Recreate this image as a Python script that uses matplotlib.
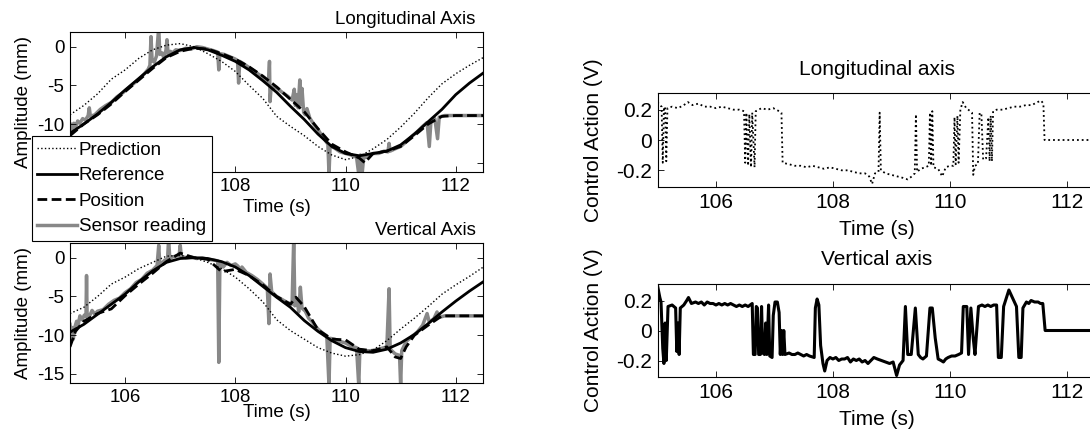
import matplotlib
matplotlib.use('Agg')
import matplotlib.pyplot as plt

plt.rcParams['font.family'] = ['Liberation Sans', 'DejaVu Sans']
plt.rcParams['axes.unicode_minus'] = False

# ---------------- data: longitudinal axis (mm) ----------------
t_grid = [105.0, 105.25, 105.5, 105.75, 106.0, 106.25, 106.5, 106.75, 107.0, 107.25,
          107.5, 107.75, 108.0, 108.25, 108.5, 108.75, 109.0, 109.25, 109.5, 109.75,
          110.0, 110.25, 110.5, 110.75, 111.0, 111.25, 111.5, 111.75, 112.0, 112.25, 112.5]

lon_reference = [-11.2, -10.0, -8.7, -7.2, -5.6, -4.1, -2.6, -1.3, -0.4, -0.1,
                 -0.4, -1.1, -1.9, -3.0, -4.4, -5.9, -7.7, -9.4, -11.3, -12.9,
                 -13.8, -14.1, -13.8, -13.5, -12.7, -11.3, -9.7, -8.1, -6.2, -4.7, -3.4]
lon_prediction = [-8.8, -7.6, -6.1, -4.2, -3.0, -1.5, -0.4, 0.2, 0.4, 0.0,
                  -0.9, -1.9, -3.2, -5.0, -6.7, -9.0, -10.3, -11.5, -12.9, -14.0,
                  -14.6, -14.2, -13.2, -12.0, -10.4, -8.6, -6.6, -4.8, -3.5, -2.4, -1.4]
lon_pos_t = [105.0, 105.25, 105.5, 105.75, 106.0, 106.25, 106.5, 106.75, 107.0, 107.25,
             107.5, 107.75, 108.0, 108.25, 108.5, 108.75, 109.0, 109.25, 109.5, 109.75,
             110.0, 110.25, 110.35, 110.5, 110.75, 111.0, 111.25, 111.5, 111.75, 112.0,
             112.25, 112.5]
lon_position = [-11.5, -10.0, -8.8, -7.4, -5.8, -4.3, -2.8, -1.4, -0.6, -0.2,
                -0.3, -0.9, -1.6, -2.6, -3.8, -5.2, -6.8, -8.4, -10.6, -12.6,
                -13.6, -14.4, -15.0, -13.8, -13.5, -12.9, -11.5, -10.0, -9.0, -8.9,
                -8.9, -8.9]
lon_sensor_t = [105.00, 105.02, 105.04, 105.07, 105.10, 105.14, 105.18, 105.23, 105.28, 105.33,
                105.35, 105.37, 105.45, 105.55, 105.65, 105.75, 105.85, 105.95, 106.05, 106.15,
                106.25, 106.35, 106.42, 106.45, 106.47, 106.49, 106.53, 106.57, 106.61, 106.63,
                106.67, 106.70, 106.74, 106.76, 106.78, 106.82, 106.86, 106.92, 107.0, 107.1,
                107.2, 107.3, 107.4, 107.5, 107.6, 107.68, 107.70, 107.72, 107.8, 107.9,
                108.0, 108.04, 108.06, 108.08, 108.15, 108.25, 108.35, 108.45, 108.55, 108.60,
                108.62, 108.63, 108.65, 108.75, 108.85, 108.95, 109.03, 109.07, 109.09, 109.11,
                109.14, 109.17, 109.19, 109.21, 109.24, 109.27, 109.30, 109.35, 109.42, 109.5,
                109.58, 109.65, 109.68, 109.70, 109.72, 109.8, 109.9, 110.0, 110.1, 110.2,
                110.24, 110.27, 110.30, 110.33, 110.4, 110.5, 110.6, 110.7, 110.77, 110.79,
                110.81, 110.9, 111.0, 111.1, 111.2, 111.3, 111.4, 111.48, 111.52, 111.55,
                111.62, 111.67, 111.70, 111.8, 112.0, 112.5]
lon_sensor = [-11.3, -10.0, -10.8, -9.9, -10.4, -9.6, -9.9, -9.3, -9.5, -8.9,
              -7.9, -9.0, -8.8, -8.1, -7.6, -7.2, -6.5, -6.0, -5.4, -4.8,
              -4.2, -3.5, -2.9, -2.4, 1.3, -1.8, -2.0, -1.2, 2.5, -1.0,
              -0.8, -1.4, -0.5, 0.9, -0.9, -0.6, -0.8, -0.4, -0.5, -0.2,
              -0.3, 0.0, -0.1, -0.3, -0.5, -0.7, -3.0, -0.9, -1.0, -1.3,
              -1.6, -1.8, -4.7, -1.9, -2.2, -2.7, -3.2, -3.7, -4.3, -4.8,
              -1.9, -7.1, -5.2, -5.3, -5.9, -6.4, -6.9, -5.5, -7.6, -6.2,
              -7.9, -4.3, -7.5, -5.4, -8.5, -8.8, -8.0, -9.2, -10.0, -10.7,
              -11.6, -12.3, -12.6, -16.5, -12.8, -13.1, -13.6, -13.8, -14.0, -14.3,
              -16.5, -14.0, -16.5, -14.3, -14.3, -13.8, -13.8, -13.5, -13.6, -12.5,
              -13.5, -13.2, -12.9, -12.3, -11.6, -11.0, -10.3, -9.8, -12.9, -9.6,
              -9.3, -11.9, -9.1, -8.9, -8.9, -8.9]

# ---------------- data: vertical axis (mm) ----------------
ver_reference = [-9.6, -8.6, -7.3, -6.0, -4.7, -3.1, -1.7, -0.6, -0.1, 0.0,
                 -0.1, -0.5, -1.2, -2.3, -3.7, -5.1, -6.4, -8.1, -9.5, -10.7,
                 -11.6, -12.1, -12.2, -11.8, -11.0, -9.9, -8.5, -7.0, -5.6, -4.3, -3.1]
ver_prediction = [-7.2, -6.4, -5.0, -3.4, -2.5, -1.4, -0.6, 0.2, 0.3, 0.0,
                  -0.6, -1.4, -2.5, -4.0, -5.7, -8.0, -9.4, -10.5, -11.6, -12.3,
                  -12.7, -12.5, -11.9, -10.7, -9.2, -7.8, -6.3, -4.7, -3.5, -2.4, -1.2]
ver_pos_t = [105.0, 105.1, 105.25, 105.5, 105.75, 106.0, 106.25, 106.5, 106.75, 107.0,
             107.25, 107.5, 107.75, 108.0, 108.25, 108.5, 108.75, 109.0, 109.1, 109.25,
             109.5, 109.75, 110.0, 110.25, 110.5, 110.75, 110.9, 111.0, 111.1, 111.25,
             111.5, 111.75, 112.0, 112.25, 112.5]
ver_position = [-11.5, -9.5, -8.2, -7.2, -6.6, -4.9, -3.4, -2.0, -0.5, 0.6,
                0.0, -0.2, -1.8, -1.5, -2.3, -3.5, -5.0, -6.0, -5.1, -6.3,
                -9.3, -10.5, -10.6, -11.8, -12.0, -11.5, -12.8, -13.0, -11.5, -10.0,
                -8.7, -7.5, -7.5, -7.5, -7.5]
ver_sensor_t = [105.00, 105.02, 105.04, 105.06, 105.09, 105.12, 105.15, 105.18, 105.22, 105.26,
                105.29, 105.30, 105.31, 105.35, 105.40, 105.45, 105.5, 105.6, 105.7, 105.8,
                105.9, 106.0, 106.1, 106.2, 106.3, 106.4, 106.5, 106.58, 106.61, 106.63,
                106.68, 106.72, 106.77, 106.79, 106.81, 106.86, 106.92, 106.98, 107.00, 107.02,
                107.1, 107.2, 107.3, 107.4, 107.5, 107.6, 107.68, 107.70, 107.72, 107.78,
                107.85, 107.92, 108.0, 108.05, 108.08, 108.12, 108.2, 108.3, 108.4, 108.5,
                108.58, 108.61, 108.63, 108.66, 108.75, 108.85, 108.95, 109.03, 109.06, 109.08,
                109.12, 109.15, 109.18, 109.21, 109.27, 109.33, 109.40, 109.45, 109.5, 109.58,
                109.66, 109.70, 109.72, 109.8, 109.9, 110.0, 110.1, 110.2, 110.24, 110.26,
                110.35, 110.45, 110.55, 110.65, 110.75, 110.79, 110.81, 110.9, 110.98, 111.00,
                111.02, 111.1, 111.2, 111.3, 111.4, 111.48, 111.52, 111.6, 111.66, 111.7,
                111.8, 112.0, 112.5]
ver_sensor = [-8.6, -10.8, -9.0, -10.5, -8.9, -8.2, -8.6, -7.5, -8.0, -7.4,
              -7.6, -2.3, -7.2, -7.6, -6.8, -7.3, -6.9, -6.7, -6.0, -5.5,
              -5.2, -4.5, -4.0, -3.2, -2.8, -2.0, -1.6, -1.0, 1.6, -0.9,
              -0.6, -0.3, -0.2, 2.5, -0.1, 0.1, 0.2, 0.3, 1.6, 0.2,
              0.0, 0.1, -0.1, 0.0, -0.2, -0.3, -0.4, -13.5, -0.6, -1.2,
              -0.6, -1.0, -0.8, -1.1, -1.7, -1.2, -1.9, -2.3, -2.8, -3.4,
              -3.9, -8.5, -2.1, -4.4, -5.0, -5.4, -5.8, -6.0, 2.5, -6.2,
              -5.3, -7.0, -3.8, -6.5, -6.9, -7.8, -8.3, -8.8, -9.2, -9.7,
              -10.1, -16.5, -10.4, -10.5, -10.8, -11.0, -11.4, -11.6, -16.5, -11.9,
              -12.0, -12.0, -11.9, -11.7, -11.5, -4.0, -11.8, -12.4, -12.6, -16.5,
              -12.0, -10.8, -10.2, -9.6, -8.7, -7.2, -8.3, -7.9, -7.0, -7.7,
              -7.5, -7.5, -7.5]

# ---------------- data: control actions (V) ----------------
lon_ctrl_t = [105.00, 105.04, 105.07, 105.09, 105.11, 105.13, 105.15, 105.17, 105.25, 105.35,
              105.45, 105.52, 105.6, 105.7, 105.8, 105.9, 106.0, 106.1, 106.2, 106.3,
              106.4, 106.48, 106.50, 106.52, 106.55, 106.57, 106.60, 106.62, 106.66, 106.68,
              106.78, 106.88, 106.98, 107.08, 107.12, 107.14, 107.25, 107.35, 107.45, 107.55,
              107.65, 107.75, 107.85, 107.95, 108.05, 108.15, 108.25, 108.35, 108.45, 108.55,
              108.62, 108.67, 108.72, 108.78, 108.80, 108.82, 108.9, 109.0, 109.1, 109.2,
              109.28, 109.35, 109.40, 109.42, 109.44, 109.5, 109.58, 109.64, 109.66, 109.68,
              109.70, 109.72, 109.8, 109.87, 109.93, 110.0, 110.06, 110.08, 110.10, 110.13,
              110.15, 110.18, 110.22, 110.28, 110.35, 110.38, 110.40, 110.43, 110.48, 110.51,
              110.54, 110.57, 110.62, 110.66, 110.68, 110.70, 110.72, 110.74, 110.8, 110.9,
              111.0, 111.1, 111.2, 111.3, 111.4, 111.5, 111.56, 111.60, 111.62, 112.5]
lon_ctrl = [0.25, 0.23, 0.22, -0.15, 0.21, 0.22, -0.14, 0.21, 0.22, 0.21,
            0.23, 0.25, 0.23, 0.24, 0.22, 0.22, 0.21, 0.22, 0.21, 0.20,
            0.20, 0.19, -0.15, 0.18, -0.17, 0.17, -0.18, 0.18, -0.18, 0.19,
            0.21, 0.20, 0.21, 0.19, 0.18, -0.15, -0.16, -0.17, -0.17, -0.18,
            -0.17, -0.18, -0.19, -0.18, -0.19, -0.20, -0.20, -0.21, -0.22, -0.22,
            -0.24, -0.29, -0.22, -0.21, 0.18, -0.20, -0.22, -0.23, -0.24, -0.25,
            -0.26, -0.24, -0.22, 0.17, -0.21, -0.19, -0.18, -0.17, 0.18, -0.17,
            0.19, -0.18, -0.19, -0.24, -0.18, -0.17, -0.17, 0.15, -0.16, 0.16,
            -0.15, 0.20, 0.25, 0.21, 0.19, 0.18, -0.23, -0.17, -0.16, 0.18,
            0.17, -0.13, -0.12, 0.15, -0.14, 0.16, -0.14, 0.19, 0.20, 0.20,
            0.21, 0.22, 0.22, 0.23, 0.23, 0.25, 0.26, 0.24, 0.0, 0.0]

ver_ctrl_t = [105.00, 105.04, 105.06, 105.09, 105.11, 105.13, 105.15, 105.18, 105.25, 105.31,
              105.33, 105.35, 105.37, 105.39, 105.45, 105.50, 105.53, 105.58, 105.65, 105.7,
              105.75, 105.8, 105.85, 105.9, 105.95, 106.0, 106.05, 106.1, 106.15, 106.2,
              106.25, 106.3, 106.35, 106.4, 106.45, 106.5, 106.55, 106.62, 106.64, 106.67,
              106.69, 106.71, 106.73, 106.76, 106.78, 106.80, 106.83, 106.85, 106.87, 106.90,
              106.92, 106.96, 106.98, 107.01, 107.05, 107.08, 107.10, 107.12, 107.14, 107.16,
              107.18, 107.25, 107.3, 107.35, 107.4, 107.45, 107.5, 107.55, 107.6, 107.68,
              107.70, 107.73, 107.76, 107.79, 107.83, 107.86, 107.90, 107.95, 108.0, 108.05,
              108.1, 108.15, 108.2, 108.25, 108.3, 108.35, 108.4, 108.45, 108.5, 108.55,
              108.6, 108.65, 108.7, 108.76, 108.83, 108.9, 108.97, 109.03, 109.09, 109.14,
              109.20, 109.24, 109.28, 109.34, 109.41, 109.46, 109.50, 109.54, 109.60, 109.66,
              109.70, 109.75, 109.80, 109.85, 109.89, 109.93, 109.97, 110.03, 110.09, 110.15,
              110.20, 110.23, 110.29, 110.32, 110.36, 110.40, 110.43, 110.46, 110.49, 110.55,
              110.6, 110.65, 110.7, 110.75, 110.80, 110.83, 110.88, 110.92, 111.01, 111.08,
              111.14, 111.18, 111.22, 111.25, 111.31, 111.35, 111.39, 111.45, 111.51, 111.55,
              111.59, 111.63, 112.5]
ver_ctrl = [0.30, 0.22, 0.19, -0.12, -0.22, 0.05, -0.20, 0.16, 0.17, 0.15,
            -0.14, 0.05, -0.16, 0.15, 0.17, 0.20, 0.22, 0.18, 0.19, 0.18,
            0.19, 0.17, 0.19, 0.18, 0.18, 0.17, 0.18, 0.17, 0.18, 0.17,
            0.18, 0.17, 0.16, 0.17, 0.16, 0.17, 0.16, 0.18, -0.16, -0.16,
            0.16, 0.15, -0.16, -0.16, 0.16, -0.15, -0.16, 0.05, -0.16, 0.17,
            -0.17, -0.18, 0.10, 0.19, 0.19, 0.12, -0.16, 0.0, -0.16, 0.0,
            -0.16, -0.15, -0.16, -0.16, -0.15, -0.16, -0.17, -0.16, -0.17, -0.18,
            0.15, 0.21, 0.17, -0.10, -0.22, -0.27, -0.20, -0.18, -0.19, -0.18,
            -0.20, -0.19, -0.19, -0.18, -0.21, -0.19, -0.20, -0.19, -0.21, -0.20,
            -0.22, -0.20, -0.18, -0.19, -0.20, -0.21, -0.22, -0.21, -0.30, -0.23,
            -0.20, 0.16, -0.16, -0.16, 0.15, -0.16, -0.18, -0.19, -0.17, 0.15,
            0.15, -0.05, -0.19, -0.20, -0.21, -0.19, -0.18, -0.17, -0.17, -0.16,
            -0.15, 0.16, 0.16, -0.16, 0.15, -0.05, -0.16, 0.0, 0.16, 0.17,
            0.16, 0.17, 0.16, 0.17, 0.17, -0.18, -0.18, 0.16, 0.27, 0.21,
            0.16, -0.18, -0.18, 0.15, 0.19, 0.18, 0.20, 0.19, 0.19, 0.18,
            0.18, 0.0, 0.0]

x_ticks = [106, 108, 110, 112]
amp_ticks = [-15, -10, -5, 0]
ctrl_ticks = [-0.2, 0, 0.2]
ctrl_tick_labels = ['-0.2', '0', '0.2']

# ---------------- figure ----------------
W, H = 1090, 432
FS_L = 13.5
FS_R = 15
fig = plt.figure(figsize=(W / 100, H / 100), dpi=100)


def add_ax(x0, y0, x1, y1):
    return fig.add_axes([x0 / W, 1 - y1 / H, (x1 - x0) / W, (y1 - y0) / H])


def style(ax, fs):
    for s in ax.spines.values():
        s.set_linewidth(0.8)
        s.set_color('black')
    ax.tick_params(direction='in', length=4, width=0.6, top=True, right=True,
                   labelsize=fs, colors='black', pad=4)
    ax.set_xlim(105, 112.5)
    ax.set_xticks(x_ticks)


GRAY = '#888888'
DASH = (0, (3.5, 1.6))

ax1 = add_ax(70, 32, 483.3, 172)
ax2 = add_ax(70, 243, 483.3, 383.3)
ax3 = add_ax(657.5, 93, 1096, 187)
ax4 = add_ax(657.5, 284, 1096, 377)

handles = None
for ax, pred, ref, pt, pos, st, sen, title, lab_y in [
        (ax1, lon_prediction, lon_reference, lon_pos_t, lon_position, lon_sensor_t, lon_sensor,
         'Longitudinal Axis', -0.19),
        (ax2, ver_prediction, ver_reference, ver_pos_t, ver_position, ver_sensor_t, ver_sensor,
         'Vertical Axis', -0.145)]:
    h4, = ax.plot(st, sen, color=GRAY, lw=2.5, zorder=1.5, label='Sensor reading')
    h1, = ax.plot(t_grid, pred, color='black', lw=1.0, ls=':', zorder=2, label='Prediction')
    h2, = ax.plot(t_grid, ref, color='black', lw=2.0, ls='-', zorder=2.2, label='Reference')
    h3, = ax.plot(pt, pos, color='black', lw=2.0, ls=DASH, zorder=2.1, label='Position')
    style(ax, FS_L)
    ax.set_ylim(-16.2, 1.9)
    ax.set_yticks(amp_ticks)
    ax.set_ylabel('Amplitude (mm)', fontsize=FS_L)
    ax.yaxis.set_label_coords(-0.092, 0.5)
    ax.set_xlabel('Time (s)', fontsize=FS_L)
    ax.xaxis.set_label_coords(0.5, lab_y)
    ax.text(1 - 7.5 / 413, 1 + 8 / 140, title, transform=ax.transAxes,
            ha='right', va='baseline', fontsize=FS_L)
    if handles is None:
        handles = [h1, h2, h3, h4]

# tick labels of the top panel that sit under the legend box are hidden there
ax1.set_xticks(x_ticks, ['', '108', '110', '112'])
ax1.set_yticks(amp_ticks, ['', '-10', '-5', '0'])

for ax, t, v, ls, lw, title, pad, lab_y in [
        (ax3, lon_ctrl_t, lon_ctrl, ':', 1.3, 'Longitudinal axis', 13, -0.35),
        (ax4, ver_ctrl_t, ver_ctrl, '-', 2.2, 'Vertical axis', 14, -0.355)]:
    ax.plot(t, v, color='black', ls=ls, lw=lw)
    style(ax, FS_R)
    ax.set_ylim(-0.31, 0.31)
    ax.set_yticks(ctrl_ticks, ctrl_tick_labels)
    ax.set_ylabel('Control Action (V)', fontsize=FS_R)
    ax.yaxis.set_label_coords(-0.124, 0.5)
    ax.set_xlabel('Time (s)', fontsize=FS_R)
    ax.xaxis.set_label_coords(0.5, lab_y)
    ax.set_title(title, fontsize=FS_R, pad=pad)

leg = fig.legend(handles, [h.get_label() for h in handles], loc='upper left',
                 bbox_to_anchor=(31.7 / W, 1 - 136 / H), bbox_transform=fig.transFigure,
                 frameon=True, fancybox=False, edgecolor='black', framealpha=1,
                 fontsize=FS_L, handlelength=2.1, handletextpad=0.12, borderpad=0.3,
                 labelspacing=0.45, borderaxespad=0)
leg.get_frame().set_linewidth(0.8)
leg.set_zorder(10)

fig.savefig('out.png', dpi=100)
